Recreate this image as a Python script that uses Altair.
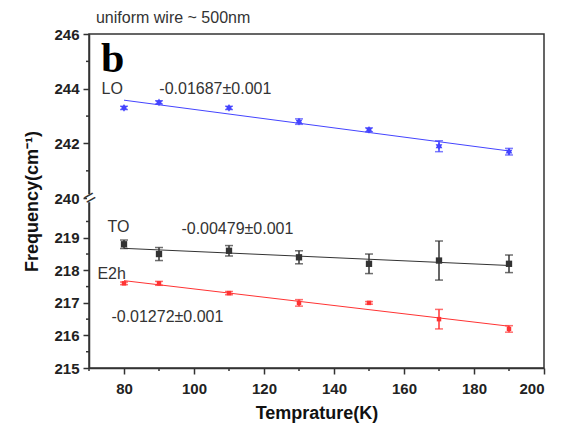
import altair as alt
import pandas as pd

# ---- data ----
temps = [80, 90, 110, 130, 150, 170, 190]
lo_vals = [243.3, 243.5, 243.3, 242.8, 242.5, 241.9, 241.7]
lo_err = [0.06, 0.06, 0.06, 0.1, 0.07, 0.2, 0.12]
to_vals = [218.8, 218.5, 218.6, 218.4, 218.2, 218.3, 218.2]
to_err = [0.13, 0.2, 0.16, 0.2, 0.3, 0.6, 0.27]
e2h_vals = [217.6, 217.6, 217.3, 217.0, 217.0, 216.5, 216.2]
e2h_err = [0.04, 0.06, 0.05, 0.1, 0.04, 0.3, 0.1]

modes = ["LO", "TO", "E2h"]
point_colors = ["#0000ff", "#000000", "#ff0000"]
line_colors = ["#4444ff", "#333333", "#ff3333"]
hexagram = "M0,-1L0.866,0.5L-0.866,0.5Z M0,1L-0.866,-0.5L0.866,-0.5Z"
shapes = [hexagram, "square", "square"]
sizes = [60, 20, 22]

ann_text = ["LO", "-0.01687\u00b10.001", "TO", "-0.00479\u00b10.001", "E2h", "-0.01272\u00b10.001"]
ann_T = [73.6, 90.1, 75.3, 96.4, 72.4, 76.4]
ann_v = [244.0, 244.0, 219.34, 219.28, 217.9, 216.58]

y_major = [215, 216, 217, 218, 219, 240, 242, 244, 246]
y_minor = [215.5, 216.5, 217.5, 218.5, 219.5, 241, 243, 245]
x_major = [80, 100, 120, 140, 160, 180, 200]
x_minor = [70, 90, 110, 130, 150, 170, 190]

# broken axis: two linear segments
LOW_BASE, LOW_PX, BREAK_T, HIGH_BASE, HIGH_PX = 215, 32.6, 170, 240, 27.4


def tpos(v):
    return (v - LOW_BASE) * LOW_PX if v < 230 else BREAK_T + (v - HIGH_BASE) * HIGH_PX


def texpr(f):
    return (f"(datum.{f} < 230 ? (datum.{f} - {LOW_BASE}) * {LOW_PX} : "
            f"{BREAK_T} + (datum.{f} - {HIGH_BASE}) * {HIGH_PX})")


rows = []
for m, vals, errs in [("LO", lo_vals, lo_err), ("TO", to_vals, to_err), ("E2h", e2h_vals, e2h_err)]:
    for T, v, e in zip(temps, vals, errs):
        rows.append({"mode": m, "T": T, "v": v, "err": e})
df = pd.DataFrame(rows)

FONT = "Liberation Sans"
AX = "#333333"
TOP = tpos(246)

label_expr = (f"datum.value < 160 ? '' + round({LOW_BASE} + datum.value / {LOW_PX}) : "
              f"'' + round({HIGH_BASE} + (datum.value - {BREAK_T}) / {HIGH_PX})")


def X():
    return alt.X("T:Q", scale=alt.Scale(domain=[70, 200], nice=False),
                 axis=alt.Axis(values=x_major, format="d", title="Temprature(K)",
                               grid=False, labelFont=FONT, labelFontSize=15,
                               labelFontWeight="bold", labelColor="#222",
                               titleFont=FONT, titleFontSize=18, titleFontWeight="bold",
                               titleColor="#111", titlePadding=8, labelPadding=7,
                               tickSize=6, tickColor=AX, tickWidth=1.5,
                               domainColor=AX, domainWidth=1.5))


def Y(field="t"):
    return alt.Y(f"{field}:Q", scale=alt.Scale(domain=[0, TOP], nice=False, zero=False),
                 axis=alt.Axis(values=[tpos(v) for v in y_major], labelExpr=label_expr,
                               title="Frequency(cm\u207b\u00b9)", grid=False,
                               labelFont=FONT, labelFontSize=15, labelFontWeight="bold",
                               labelColor="#222", titleFont=FONT, titleFontSize=18,
                               titleFontWeight="bold", titleColor="#111", titlePadding=12,
                               labelPadding=4, tickSize=6, tickColor=AX, tickWidth=1.5,
                               domainColor=AX, domainWidth=1.5))


def C(rng):
    return alt.Color("mode:N", scale=alt.Scale(domain=modes, range=rng), legend=None)


base = alt.Chart(df)

fit = base.transform_regression("T", "v", groupby=["mode"]).transform_calculate(
    t=texpr("v")).mark_line(strokeWidth=1).encode(
    x=X(), y=Y(), color=C(line_colors), detail="mode:N")

err_base = base.transform_calculate(lo="datum.v - datum.err", hi="datum.v + datum.err").transform_calculate(
    tlo=texpr("lo"), thi=texpr("hi"))

bars = err_base.mark_rule(strokeWidth=1.5).encode(
    x=X(), y=Y("tlo"), y2="thi:Q", color=C(point_colors))

caps_lo = err_base.mark_tick(orient="horizontal", size=8, thickness=1.5).encode(
    x=X(), y=Y("tlo"), color=C(point_colors))
caps_hi = err_base.mark_tick(orient="horizontal", size=8, thickness=1.5).encode(
    x=X(), y=Y("thi"), color=C(point_colors))

pts = base.transform_calculate(t=texpr("v")).mark_point(filled=True, opacity=1).encode(
    x=X(), y=Y(), color=C(point_colors),
    shape=alt.Shape("mode:N", scale=alt.Scale(domain=modes, range=shapes), legend=None),
    size=alt.Size("mode:N", scale=alt.Scale(domain=modes, range=sizes), legend=None))

ann_df = pd.DataFrame({"text": ann_text, "T": ann_T, "v": ann_v})
ann = alt.Chart(ann_df).transform_calculate(t=texpr("v")).mark_text(
    align="left", baseline="middle", font=FONT, fontSize=16, color="#333").encode(
    x=X(), y=Y(), text="text:N")

b_df = pd.DataFrame({"text": ["b"], "T": [73.4], "v": [244.6]})
b_mark = alt.Chart(b_df).transform_calculate(t=texpr("v")).mark_text(
    align="left", baseline="alphabetic", font="Liberation Serif", fontSize=42,
    fontWeight="bold", color="#000").encode(x=X(), y=Y(), text="text:N")

# minor ticks
ymin_df = pd.DataFrame({"v": y_minor})
ymin = alt.Chart(ymin_df).transform_calculate(t=texpr("v")).mark_rule(
    color=AX, strokeWidth=1.5).encode(y=Y(), x=alt.value(-3), x2=alt.value(0))
xmin_df = pd.DataFrame({"T": x_minor})
xmin = alt.Chart(xmin_df).mark_rule(color=AX, strokeWidth=1.5).encode(
    x=X(), y=alt.value(334), y2=alt.value(337))

# axis break marker at 240
brk_df = pd.DataFrame({"v": [240]})
brk_gap = alt.Chart(brk_df).transform_calculate(t=texpr("v"), t1="datum.t - 4", t2="datum.t + 4").mark_rule(
    color="white", strokeWidth=4).encode(y=Y("t1"), y2="t2:Q", x=alt.value(0))
brk = alt.Chart(brk_df).transform_calculate(t=texpr("v")).mark_text(
    text="=", font=FONT, fontSize=20, angle=330, color=AX, align="center", baseline="middle").encode(
    y=Y(), x=alt.value(1))

chart = alt.layer(fit, bars, caps_lo, caps_hi, pts, ann, b_mark, ymin, xmin, brk_gap, brk).properties(
    width=455, height=334,
    title=alt.TitleParams("uniform wire ~ 500nm", anchor="start", font=FONT, fontSize=16,
                          fontWeight="normal", color="#333", dx=72, dy=8, offset=9),
    padding={"left": 81, "top": 26, "right": 13, "bottom": 57},
    autosize="none",
).configure_view(stroke=AX, strokeWidth=1.5)

chart.save("out.html", embed_options={"renderer": "svg", "actions": False})
